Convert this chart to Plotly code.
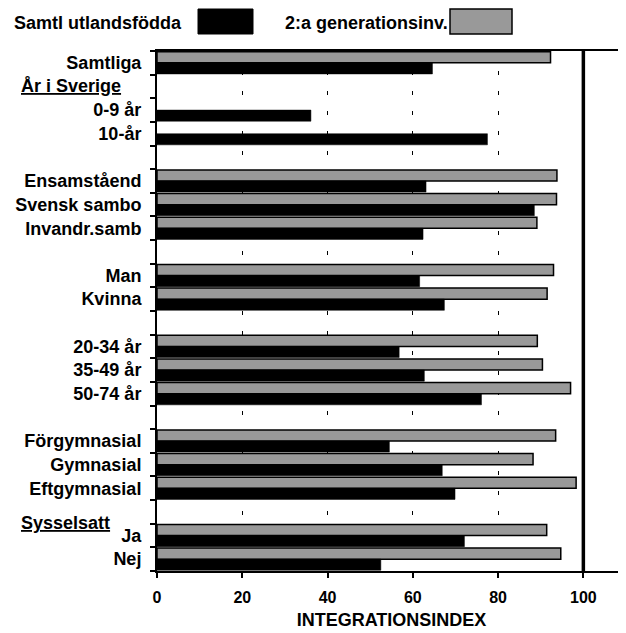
import plotly.graph_objects as go

# ---- data ----
categories = ["Samtliga", "", "0-9 år", "10-år", "",
              "Ensamståend", "Svensk sambo", "Invandr.samb", "",
              "Man", "Kvinna", "",
              "20-34 år", "35-49 år", "50-74 år", "",
              "Förgymnasial", "Gymnasial", "Eftgymnasial", "",
              "Ja", "Nej"]
utlandsfodda = [64.6, None, 36.1, 77.5, None,
                63.1, 88.5, 62.4, None,
                61.6, 67.4, None,
                56.8, 62.7, 76.1, None,
                54.5, 66.9, 69.9, None,
                72.1, 52.5]
andra_gen = [92.3, None, None, None, None,
             93.8, 93.7, 89.1, None,
             93.0, 91.5, None,
             89.2, 90.4, 97.0, None,
             93.5, 88.2, 98.3, None,
             91.4, 94.7]
group_headers = {"År i Sverige": 1.0, "Sysselsatt": 19.45}
x_ticks = [0, 20, 40, 60, 80, 100]
reference_level = 100
series_names = ["Samtl utlandsfödda", "2:a generationsinv."]

positions = list(range(len(categories)))

# page has an 8px body margin; figure placed so its plot area matches the target
OFF = 8
W, H = 626 - OFF, 633 - OFF
L, R, T, B = 157 - OFF, 0, 51 - OFF, 62
PW, PH = W - L - R, H - T - B

def px_x(px):
    return (px - OFF - L) / PW

def px_y(py):
    return (H - B - (py - OFF)) / PH

FONT = "Liberation Sans, Arial, Helvetica, sans-serif"

fig = go.Figure()
fig.add_trace(go.Bar(
    y=positions, x=andra_gen, orientation="h", name=series_names[1],
    marker=dict(color="#999999", line=dict(color="black", width=1.5)),
    showlegend=False,
))
fig.add_trace(go.Bar(
    y=positions, x=utlandsfodda, orientation="h", name=series_names[0],
    marker=dict(color="black", line=dict(color="black", width=0.5)),
    showlegend=False,
))

fig.add_shape(type="line", x0=reference_level, x1=reference_level, y0=0, y1=1,
              xref="x", yref="paper", line=dict(color="black", width=3.5), layer="above")

# group headers (underlined)
for text, yv in group_headers.items():
    fig.add_annotation(text="<b><u>" + text + "</u></b>", x=px_x(19), xref="paper",
                       y=yv, yref="y", xanchor="left", yanchor="middle", showarrow=False,
                       font=dict(family=FONT, size=18, color="black"))

# legend built from text and swatches
fig.add_annotation(text="<b>" + series_names[0] + "</b>", x=px_x(12), xref="paper",
                   y=px_y(23), yref="paper", xanchor="left", yanchor="middle",
                   showarrow=False, font=dict(family=FONT, size=18, color="black"))
fig.add_shape(type="rect", x0=px_x(198), x1=px_x(253), y0=px_y(34), y1=px_y(9),
              xref="paper", yref="paper", fillcolor="black", line=dict(color="black", width=1))
fig.add_annotation(text="<b>" + series_names[1] + "</b>", x=px_x(283), xref="paper",
                   y=px_y(23), yref="paper", xanchor="left", yanchor="middle",
                   showarrow=False, font=dict(family=FONT, size=18, color="black"))
fig.add_shape(type="rect", x0=px_x(450), x1=px_x(512), y0=px_y(34), y1=px_y(9),
              xref="paper", yref="paper", fillcolor="#999999", line=dict(color="black", width=1.5))

fig.update_layout(
    width=W, height=H,
    margin=dict(l=L, r=R, t=T, b=B, pad=0),
    paper_bgcolor="white", plot_bgcolor="white",
    barmode="group", bargap=0.06, bargroupgap=0,
    font=dict(family=FONT, color="black"),
    xaxis=dict(
        range=[0, 110], tickvals=x_ticks, ticks="outside", ticklen=5,
        tickwidth=1.5, tickcolor="black",
        showline=True, linecolor="black", linewidth=2, mirror=True,
        showgrid=True, gridcolor="black", gridwidth=1, griddash="4px,16px",
        zeroline=False,
        tickfont=dict(family=FONT, size=16, weight="bold"),
        ticklabelstandoff=6,
        title=dict(text="<b>INTEGRATIONSINDEX</b>", font=dict(family=FONT, size=18), standoff=8),
    ),
    yaxis=dict(
        range=[len(categories) - 0.5, -0.5],
        tickmode="array", tickvals=positions, ticktext=categories,
        ticks="", showline=True, linecolor="black", linewidth=2,
        showgrid=False, zeroline=False,
        tickfont=dict(family=FONT, size=18, weight="bold"),
        ticklabelstandoff=10,
        minor=dict(tick0=0.5, dtick=1, ticks="outside", ticklen=5,
                   tickcolor="black", tickwidth=1.5, showgrid=False),
    ),
)

fig.write_html("out.html")
